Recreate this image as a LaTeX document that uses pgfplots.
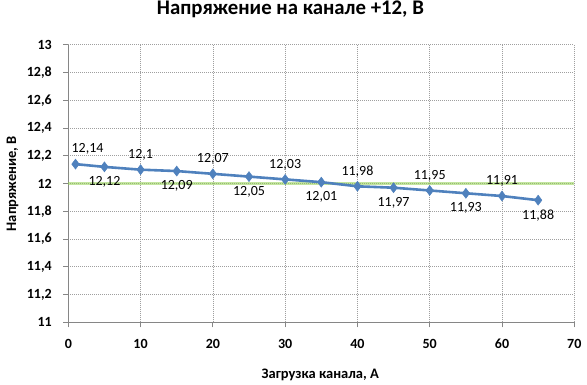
\documentclass[border=0pt]{standalone}
\usepackage{fontspec}
\setmainfont{Carlito}
\usepackage{pgfplots}
\pgfplotsset{compat=1.18}
\definecolor{ser}{HTML}{4F81BD}
\definecolor{refg}{RGB}{146,208,80}
\definecolor{axg}{RGB}{134,134,134}
\begin{document}
\begin{tikzpicture}
\begin{axis}[
  at={(0pt,0pt)}, anchor=south west,
  scale only axis, width=506pt, height=277.5pt,
  xmin=0, xmax=70, ymin=11, ymax=13,
  xtick={0,10,20,30,40,50,60,70},
  ytick={11,11.2,11.4,11.6,11.8,12,12.2,12.4,12.6,12.8,13},
  axis x line*=bottom, axis y line*=left,
  axis line style={draw=axg, line width=0.9pt, -},
  tick align=outside, major tick length=5pt,
  tick style={draw=axg, line width=0.9pt},
  grid=major, grid style={dash pattern=on 1pt off 1pt, draw=gray!75, line width=0.6pt},
  ticklabel style={font=\fontsize{14}{16}\selectfont\bfseries},
  yticklabel style={xshift=-8pt},
  xticklabel style={yshift=-8pt},
  /pgf/number format/assume math mode=true,
  /pgf/number format/use comma,
  /pgf/number format/fixed,
  /pgf/number format/precision=2,
  title={Напряжение на канале +12, В},
  title style={font=\fontsize{20.8}{24}\selectfont\bfseries, at={(axis description cs:0.439,1.0868)}, anchor=base},
  xlabel={Загрузка канала, А},
  xlabel style={font=\fontsize{14.5}{16}\selectfont\bfseries, at={(axis description cs:0.498,-0.2032)}, anchor=base},
  ylabel={Напряжение, В},
  ylabel style={font=\fontsize{14.5}{16}\selectfont\bfseries, at={(axis description cs:-0.1033,0.5)}, anchor=base},
  clip=false,
]
\addplot[refg, opacity=0.55, line width=2.6pt, forget plot] coordinates {(0,12) (70,12)};
\addplot[ser, line width=2.6pt, mark=diamond*, mark size=5pt, mark options={fill=ser, draw=ser, line width=0.5pt}] coordinates {
 (1,12.14) (5,12.12) (10,12.1) (15,12.09) (20,12.07) (25,12.05) (30,12.03)
 (35,12.01) (40,11.98) (45,11.97) (50,11.95) (55,11.93) (60,11.91) (65,11.88)};
% labels above
\addplot[draw=none, mark=none, nodes near coords, point meta=explicit,
  every node near coord/.append style={font=\fontsize{14}{15}\selectfont, anchor=center, yshift=15pt, text=black}]
  coordinates {(10,12.1)[12.1] (20,12.07)[12.07] (30,12.03)[12.03] (40,11.98)[11.98] (50,11.95)[11.95] (60,11.91)[11.91]};
\addplot[draw=none, mark=none, nodes near coords, point meta=explicit,
  every node near coord/.append style={font=\fontsize{14}{15}\selectfont, anchor=center, yshift=15pt, xshift=12pt, text=black}]
  coordinates {(1,12.14)[12.14]};
% labels below
\addplot[draw=none, mark=none, nodes near coords, point meta=explicit,
  every node near coord/.append style={font=\fontsize{14}{15}\selectfont, anchor=center, yshift=-15pt, text=black}]
  coordinates {(5,12.12)[12.12] (15,12.09)[12.09] (25,12.05)[12.05] (35,12.01)[12.01] (45,11.97)[11.97] (55,11.93)[11.93] (65,11.88)[11.88]};
\end{axis}
\pgfresetboundingbox
\path (-68.3pt,-62.7pt) rectangle (518.7pt,322.3pt);
\end{tikzpicture}
\end{document}
